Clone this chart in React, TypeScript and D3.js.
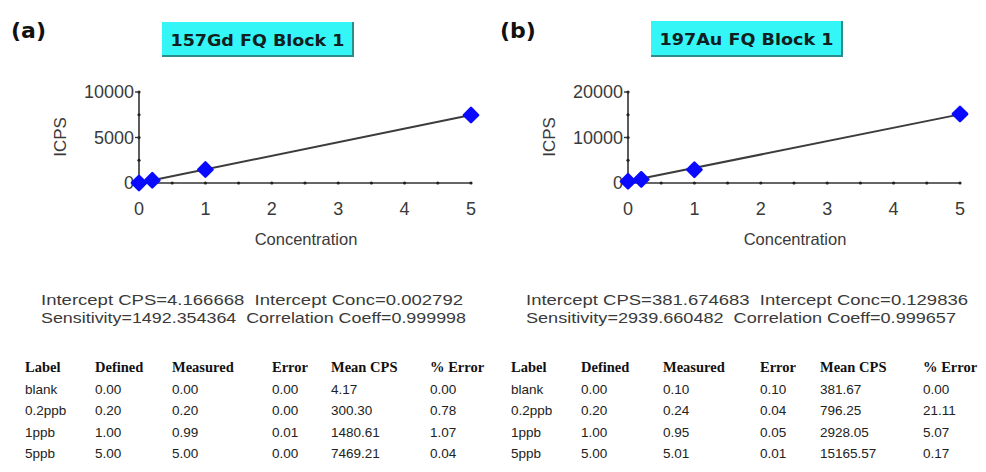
import React from "react";
import * as d3 from "d3";

// calibration standards
const concentrations = [0, 0.2, 1, 5];
const sampleLabels = ["blank", "0.2ppb", "1ppb", "5ppb"];
const tableHeaders = ["Label", "Defined", "Measured", "Error", "Mean CPS", "% Error"];

// 157Gd
const gdMeanCps = [4.17, 300.3, 1480.61, 7469.21];
const gdDefined = ["0.00", "0.20", "1.00", "5.00"];
const gdMeasured = ["0.00", "0.20", "0.99", "5.00"];
const gdError = ["0.00", "0.00", "0.01", "0.00"];
const gdMeanText = ["4.17", "300.30", "1480.61", "7469.21"];
const gdPctError = ["0.00", "0.78", "1.07", "0.04"];
const gdStats = ["Intercept CPS=4.166668  Intercept Conc=0.002792", "Sensitivity=1492.354364  Correlation Coeff=0.999998"];
const gdFit = [4.166668, 1492.354364];
const gdYTicks = [0, 5000, 10000];

// 197Au
const auMeanCps = [381.67, 796.25, 2928.05, 15165.57];
const auDefined = ["0.00", "0.20", "1.00", "5.00"];
const auMeasured = ["0.10", "0.24", "0.95", "5.01"];
const auError = ["0.10", "0.04", "0.05", "0.01"];
const auMeanText = ["381.67", "796.25", "2928.05", "15165.57"];
const auPctError = ["0.00", "21.11", "5.07", "0.17"];
const auStats = ["Intercept CPS=381.674683  Intercept Conc=0.129836", "Sensitivity=2939.660482  Correlation Coeff=0.999657"];
const auFit = [381.674683, 2939.660482];
const auYTicks = [0, 10000, 20000];

const xTicks = [0, 1, 2, 3, 4, 5];

const sans = "'Liberation Sans', Arial, sans-serif";
const gray = "#3a3a3a";

function Panel(props: any) {
  const { ox, tag, title, box, cps, fit, yTicks, stats, cols, colX, statW } = props;
  const x = d3.scaleLinear().domain([0, 5]).range([ox + 139, ox + 471]);
  const yMax = yTicks[yTicks.length - 1];
  const y = d3.scaleLinear().domain([0, yMax]).range([183, 92]);
  const minorY = d3.range(0, yMax + 1, yMax / 4);
  const minorX = d3.range(0, 5.01, 0.5);
  const line = d3.line<number>().x(d => x(d)).y(d => y(fit[0] + fit[1] * d));
  const diamond = d3.symbol().type(d3.symbolDiamond2).size(130)();
  const rowY = (i: number) => 372 + i * 21.5;

  return (
    <g>
      <text x={ox + 11} y={38} fontFamily="'DejaVu Sans', sans-serif" fontWeight="bold" fontSize={22} fill="#111">{tag}</text>
      <rect x={box[0]} y={box[1]} width={box[2]} height={box[3]} fill="#35f6f6" />
      <polyline points={`${box[0] + box[2]},${box[1]} ${box[0] + box[2]},${box[1] + box[3]} ${box[0]},${box[1] + box[3]}`}
        fill="none" stroke="#2a8e8e" strokeWidth={2} />
      <text x={box[0] + box[2] / 2} y={box[1] + 24} textAnchor="middle" fontFamily="'DejaVu Sans', sans-serif" fontWeight="bold"
        fontSize={16} fill="#102020" textLength={174} lengthAdjust="spacingAndGlyphs">{title}</text>

      {/* axes */}
      <line x1={x(0)} x2={x(0)} y1={y(0)} y2={y(yMax)} stroke="#333" strokeWidth={1.6} />
      <line x1={x(0)} x2={x(5)} y1={y(0)} y2={y(0)} stroke="#333" strokeWidth={1.6} />
      {minorY.map(t => <circle key={"my" + t} cx={x(0)} cy={y(t)} r={1.6} fill="#222" />)}
      {minorX.map(t => <circle key={"mx" + t} cx={x(t)} cy={y(0)} r={1.6} fill="#222" />)}
      {yTicks.map((t: number) => (
        <g key={"y" + t}>
          <line x1={x(0) - 4} x2={x(0)} y1={y(t)} y2={y(t)} stroke="#333" strokeWidth={1.4} />
          <text x={x(0) - 5} y={y(t) + 6} textAnchor="end" fontFamily={sans} fontSize={18} fill={gray}
            textLength={String(t).length * 10} lengthAdjust="spacingAndGlyphs">{t}</text>
        </g>
      ))}
      {xTicks.map(t => (
        <text key={"x" + t} x={x(t)} y={215} textAnchor="middle" fontFamily={sans} fontSize={18} fill={gray}>{t}</text>
      ))}
      <text x={ox + 306} y={245} textAnchor="middle" fontFamily={sans} fontSize={16.5} fill={gray}>Concentration</text>
      <text transform={`translate(${ox + 66},137) rotate(-90)`} textAnchor="middle" fontFamily={sans} fontSize={17} fill={gray}>ICPS</text>

      {/* fit line and standards */}
      <path d={line([0, 5]) || ""} fill="none" stroke="#3c3c3c" strokeWidth={2} />
      {concentrations.map((c, i) => (
        <path key={"p" + i} d={diamond || ""} transform={`translate(${x(c)},${y(cps[i])})`} fill="#0a0aff"
          stroke="#0a0aff" strokeWidth={2.5} strokeLinejoin="round" />
      ))}

      {/* regression summary */}
      {stats.map((s: string, i: number) => (
        <text key={"s" + i} x={statW[0]} y={305 + i * 18} fontFamily={sans} fontSize={15} fill={gray}
          style={{ whiteSpace: "pre" }} textLength={statW[1 + i]} lengthAdjust="spacingAndGlyphs">{s}</text>
      ))}

      {/* table */}
      {tableHeaders.map((h, j) => (
        <text key={"h" + j} x={colX[j]} y={rowY(0)} fontFamily="'Liberation Serif', serif" fontWeight="bold" fontSize={14.5} fill="#111">{h}</text>
      ))}
      {sampleLabels.map((lab, i) => (
        <g key={"r" + i}>
          {[lab, ...cols.map((c: string[]) => c[i])].map((v, j) => (
            <text key={j} x={colX[j]} y={rowY(i + 1)} fontFamily={sans} fontSize={13.5} fill="#222">{v}</text>
          ))}
        </g>
      ))}
    </g>
  );
}

export default function App() {
  return (
    <svg width={986} height={472} style={{ position: "absolute", left: 0, top: 0, background: "#fff" }}>
      <rect width={986} height={472} fill="#fff" />
      <Panel ox={0} tag="(a)" title="157Gd FQ Block 1" box={[162, 22, 191, 34]} cps={gdMeanCps} fit={gdFit}
        yTicks={gdYTicks} stats={gdStats} statW={[41, 422, 425]}
        cols={[gdDefined, gdMeasured, gdError, gdMeanText, gdPctError]}
        colX={[25, 95, 172, 272, 331, 430]} />
      <Panel ox={489} tag="(b)" title="197Au FQ Block 1" box={[651, 21, 191, 35]} cps={auMeanCps} fit={auFit}
        yTicks={auYTicks} stats={auStats} statW={[526, 442, 430]}
        cols={[auDefined, auMeasured, auError, auMeanText, auPctError]}
        colX={[511, 581, 663, 760, 820, 923]} />
    </svg>
  );
}
